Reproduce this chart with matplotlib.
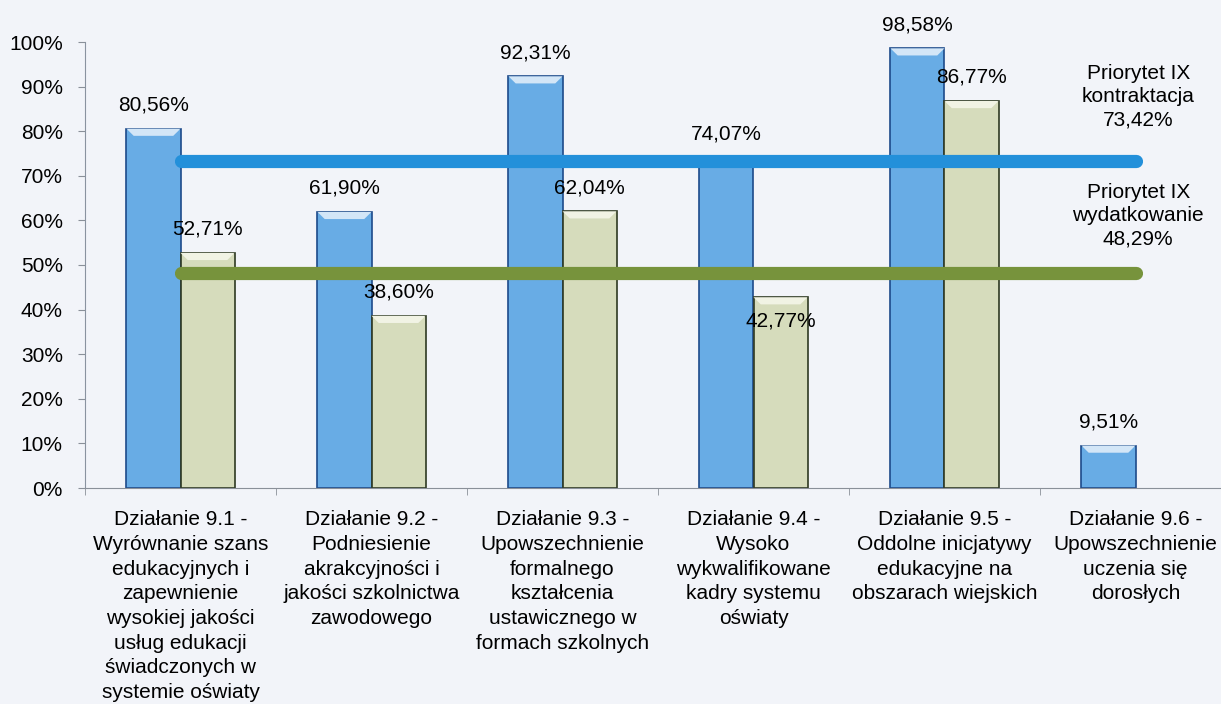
import numpy as np
import matplotlib as mpl
mpl.use('Agg')
import matplotlib.pyplot as plt
from matplotlib.patches import Polygon

plt.rcParams['font.family'] = ['Liberation Sans', 'DejaVu Sans']

# data
categories = [
    'Działanie 9.1 -\nWyrównanie szans\nedukacyjnych i\nzapewnienie\nwysokiej jakości\nusług edukacji\nświadczonych w\nsystemie oświaty',
    'Działanie 9.2 -\nPodniesienie\nakrakcyjności i\njakości szkolnictwa\nzawodowego',
    'Działanie 9.3 -\nUpowszechnienie\nformalnego\nkształcenia\nustawicznego w\nformach szkolnych',
    'Działanie 9.4 -\nWysoko\nwykwalifikowane\nkadry systemu\noświaty',
    'Działanie 9.5 -\nOddolne inicjatywy\nedukacyjne na\nobszarach wiejskich',
    'Działanie 9.6 -\nUpowszechnienie\nuczenia się\ndorosłych',
]
kontraktacja = [80.56, 61.90, 92.31, 74.07, 98.58, 9.51]
wydatkowanie = [52.71, 38.60, 62.04, 42.77, 86.77, np.nan]
priorytet_kontraktacja = 73.42
priorytet_wydatkowanie = 48.29
yticks = [0, 10, 20, 30, 40, 50, 60, 70, 80, 90, 100]

def fmt(v):
    return ('%.2f%%' % v).replace('.', ',')

W, H = 1221, 704
fig = plt.figure(figsize=(W / 100, H / 100), dpi=100)
fig.patch.set_facecolor('#F2F4F9')
ax = fig.add_axes([85 / W, (H - 488) / H, 1146 / W, (488 - 42) / H])
ax.set_facecolor('none')

x = np.arange(len(categories))
bw = 0.283
fs = 15

b1 = ax.bar(x - bw / 2, kontraktacja, bw, color='#68ACE5', edgecolor='#1D4A8A', linewidth=1.2, zorder=2)
b2 = ax.bar(x + bw / 2, wydatkowanie, bw, color='#D6DCBC', edgecolor='#2E3922', linewidth=1.2, zorder=2)

# top bevels
def bevel(bars, col):
    for r in bars:
        h = r.get_height()
        if not np.isfinite(h) or h <= 0:
            continue
        x0, w = r.get_x(), r.get_width()
        d, ix = 1.6, 0.038
        ax.add_patch(Polygon([[x0, h], [x0 + w, h], [x0 + w - ix, h - d], [x0 + ix, h - d]],
                             closed=True, facecolor=col, edgecolor='none', zorder=2.5))

bevel(b1, '#D3E6F7')
bevel(b2, '#F1F3E4')

# priority lines
ax.plot([x[0], x[-1]], [priorytet_kontraktacja] * 2, color='#2390DA', lw=9.5,
        solid_capstyle='round', zorder=3)
ax.plot([x[0], x[-1]], [priorytet_wydatkowanie] * 2, color='#77933C', lw=9.5,
        solid_capstyle='round', zorder=3)

ax.annotate('Priorytet IX\nkontraktacja\n' + fmt(priorytet_kontraktacja),
            (x[-1], priorytet_kontraktacja), xytext=(2, 46), textcoords='offset points',
            ha='center', va='center', fontsize=fs, linespacing=1.3, zorder=4)
ax.annotate('Priorytet IX\nwydatkowanie\n' + fmt(priorytet_wydatkowanie),
            (x[-1], priorytet_wydatkowanie), xytext=(2, 41), textcoords='offset points',
            ha='center', va='center', fontsize=fs, linespacing=1.3, zorder=4)

# value labels
for xi, v in zip(x, kontraktacja):
    ax.annotate(fmt(v), (xi - bw / 2, v), xytext=(0, 17), textcoords='offset points',
                ha='center', va='center', fontsize=fs, zorder=4)
for xi, v in zip(x, wydatkowanie):
    if np.isnan(v):
        continue
    dy = -17 if v == 42.77 else 17
    ax.annotate(fmt(v), (xi + bw / 2, v), xytext=(0, dy), textcoords='offset points',
                ha='center', va='center', fontsize=fs, zorder=4)

ax.set_xlim(-0.5, len(categories) - 0.5)
ax.set_ylim(0, 100)
ax.set_yticks(yticks)
ax.set_yticklabels(['%d%%' % t for t in yticks], fontsize=fs)
ax.set_xticks(x)
ax.set_xticklabels(categories, fontsize=fs, linespacing=1.38, va='top')
ax.set_xticks(np.arange(len(categories) + 1) - 0.5, minor=True)
ax.tick_params(axis='x', which='major', length=0, pad=16)
ax.tick_params(axis='x', which='minor', length=5, color='#8A9099', direction='out')
ax.tick_params(axis='y', length=5, color='#8A9099', pad=11)
for s in ['top', 'right']:
    ax.spines[s].set_visible(False)
ax.spines['left'].set_color('#8A93A0')
ax.spines['bottom'].set_color('#8A9099')

fig.savefig('out.png', dpi=100, facecolor=fig.get_facecolor())
